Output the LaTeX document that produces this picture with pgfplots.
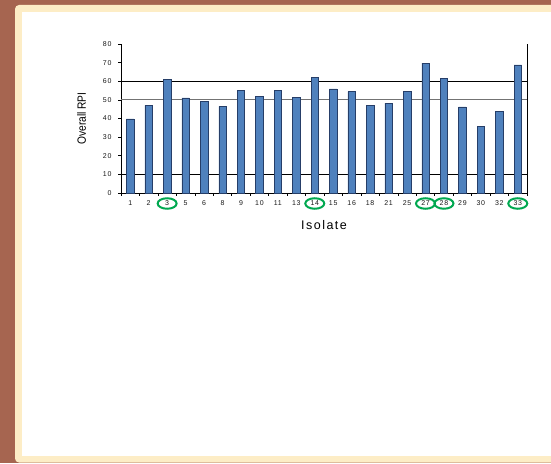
\documentclass[border=0pt]{standalone}
\usepackage{pgfplots}
\pgfplotsset{compat=1.18}
\usepackage{pgfplotstable}
\usepackage{fontspec}
\setmainfont{Liberation Sans}
\newfontfamily\tickfont[LetterSpace=10]{Liberation Sans}
\usetikzlibrary{shapes.geometric}

\definecolor{brownbg}{RGB}{166,101,80}
\definecolor{cream}{RGB}{253,237,198}
\definecolor{barblue}{RGB}{79,129,189}
\definecolor{baredge}{RGB}{38,62,104}
\definecolor{ringgreen}{RGB}{0,168,80}

% overall RPI per isolate
\pgfplotstableread{
idx iso rpi
0  1  39.8
1  2  47.0
2  3  61.2
3  5  51.1
4  6  49.0
5  8  46.5
6  9  55.2
7  10 52.0
8  11 55.0
9  13 51.5
10 14 62.2
11 15 55.9
12 16 54.4
13 18 46.9
14 21 48.3
15 25 54.6
16 27 69.7
17 28 61.6
18 29 46.2
19 30 35.7
20 32 43.8
21 33 68.8
}\rpidata

\begin{document}
\begin{tikzpicture}
  \useasboundingbox (0,0) rectangle (551pt,463pt);
  % slide frame
  \fill[brownbg] (0,0) rectangle (551pt,463pt);
  \fill[cream, rounded corners=4pt] (15pt,0.5pt) rectangle (565pt,458pt);
  \fill[white] (21.5pt,7pt) rectangle (565pt,451pt);

  \begin{axis}[
      at={(121pt,270pt)}, anchor=south west,
      scale only axis,
      width=406pt, height=149pt,
      ymin=0, ymax=80,
      ytick={0,10,...,80},
      xmin=-0.5, xmax=21.5,
      xtick=data,
      xticklabels from table={\rpidata}{iso},
      minor xtick={-0.5,0.5,...,21.5},
      major x tick style={draw=none},
      minor tick length=3pt,
      major tick length=3pt,
      tick align=outside,
      axis x line*=bottom,
      axis y line*=left,
      axis line style={-, line width=0.6pt},
      tick style={black, line width=0.5pt},
      /pgf/number format/assume math mode=true,
      tick label style={font=\tickfont\fontsize{7}{8}\selectfont, text=black!90},
      xticklabel style={yshift=-1pt},
      yticklabel style={xshift=-3pt},
      ylabel={\scalebox{0.85}[1]{Overall RPI}},
      ylabel style={font=\fontsize{12}{14}\selectfont, yshift=10pt},
      xlabel={\addfontfeature{LetterSpace=12}Isolate},
      xlabel style={font=\fontsize{12.5}{14}\selectfont, yshift=-8pt},
      ybar, bar width=7.5pt, bar shift=0pt,
      clip=false,
    ]
    % reference lines
    \draw[black, line width=0.7pt] (axis cs:-0.5,10) -- (axis cs:21.5,10);
    \draw[black!55, line width=1.1pt] (axis cs:-0.5,50) -- (axis cs:21.5,50);
    \draw[black, line width=0.7pt] (axis cs:-0.5,60) -- (axis cs:21.5,60);

    \addplot[fill=barblue, draw=baredge, line width=0.5pt] table[x=idx, y=rpi] {\rpidata};

    % right-hand axis line
    \draw[line width=0.6pt] (rel axis cs:1,0) -- (rel axis cs:1,1);

    % highlighted isolates
    \pgfplotsinvokeforeach{2,10,16,17,21}{
      \node[draw=ringgreen, line width=2pt, ellipse, minimum width=19pt,
            minimum height=10.5pt, inner sep=0pt, yshift=-10.5pt] at (axis cs:#1,0) {};
    }
  \end{axis}
\end{tikzpicture}
\end{document}
